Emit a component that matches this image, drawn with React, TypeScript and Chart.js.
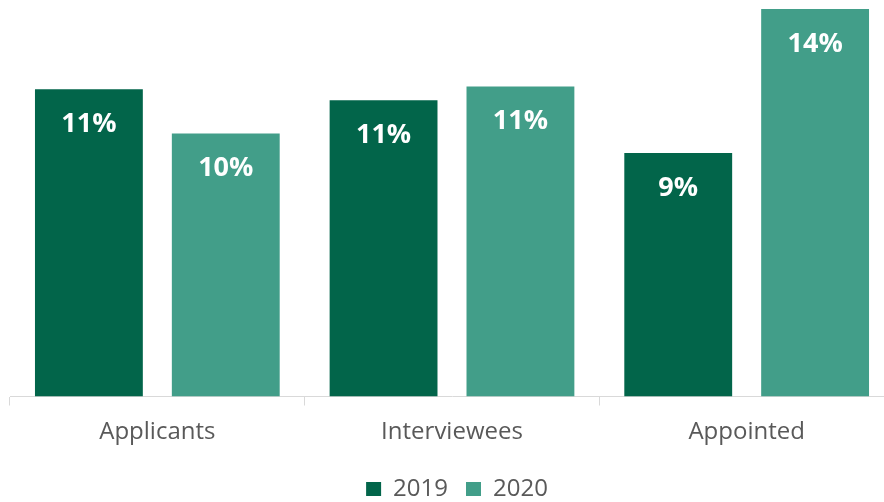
import React, { useEffect, useRef } from "react";
import { Chart, registerables } from "chart.js";

Chart.register(...registerables);

const categories = ["Applicants", "Interviewees", "Appointed"];
const values2019 = [11.1, 10.7, 8.8];
const values2020 = [9.5, 11.2, 14.0];
const seriesLabels = ["2019", "2020"];
const seriesColors = ["#02654A", "#429E89"];

const FONT = "'Open Sans', 'DejaVu Sans', sans-serif";

const valueLabelPlugin = {
  id: "valueLabels",
  afterLayout(chart: any) {
    if (chart.legend) {
      chart.legend.left += 5;
      chart.legend.right += 5;
    }
  },
  afterDatasetsDraw(chart: any) {
    const ctx = chart.ctx;
    ctx.save();
    ctx.fillStyle = "#ffffff";
    ctx.font = `bold 27px ${FONT}`;
    ctx.textAlign = "center";
    ctx.textBaseline = "middle";
    chart.data.datasets.forEach((ds: any, di: number) => {
      const meta = chart.getDatasetMeta(di);
      meta.data.forEach((bar: any, i: number) => {
        const v = ds.data[i];
        ctx.fillText(`${Math.round(v)}%`, bar.x, bar.y + 35);
      });
    });
    ctx.restore();
  },
};

export default function App() {
  const ref = useRef<HTMLCanvasElement | null>(null);
  useEffect(() => {
    if (!ref.current) return;
    const chart = new Chart(ref.current, {
      type: "bar",
      data: {
        labels: categories,
        datasets: [
          {
            label: seriesLabels[0],
            data: values2019,
            backgroundColor: seriesColors[0],
            categoryPercentage: 0.929,
            barPercentage: 0.788,
          },
          {
            label: seriesLabels[1],
            data: values2020,
            backgroundColor: seriesColors[1],
            categoryPercentage: 0.929,
            barPercentage: 0.788,
          },
        ],
      },
      options: {
        animation: false,
        responsive: false,
        devicePixelRatio: 1,
        layout: { padding: { left: 10, right: 10, top: 9, bottom: -9 } },
        scales: {
          y: { display: false, min: 0, max: 14.0 },
          x: {
            afterFit(scale: any) {
              scale.height = 62.5;
            },
            grid: {
              display: true,
              drawOnChartArea: false,
              drawTicks: true,
              tickLength: 9,
              color: "#D9D9D9",
              offset: true,
            },
            border: { display: true, color: "#D9D9D9", width: 1 },
            ticks: {
              color: "#595959",
              font: { family: FONT, size: 24 },
              padding: 12,
            },
          },
        },
        plugins: {
          legend: {
            display: true,
            position: "bottom",
            labels: {
              color: "#595959",
              font: { family: FONT, size: 24 },
              boxWidth: 15,
              boxHeight: 14,
              padding: 18,
            },
          },
          tooltip: { enabled: false },
        },
      },
      plugins: [valueLabelPlugin],
    });
    return () => chart.destroy();
  }, []);
  return (
    <div
      style={{
        position: "fixed",
        left: 0,
        top: 0,
        width: 884,
        height: 502,
        overflow: "hidden",
        background: "#ffffff",
      }}
    >
      <canvas ref={ref} width={904} height={502} style={{ width: 904, height: 502, display: "block" }} />
    </div>
  );
}
